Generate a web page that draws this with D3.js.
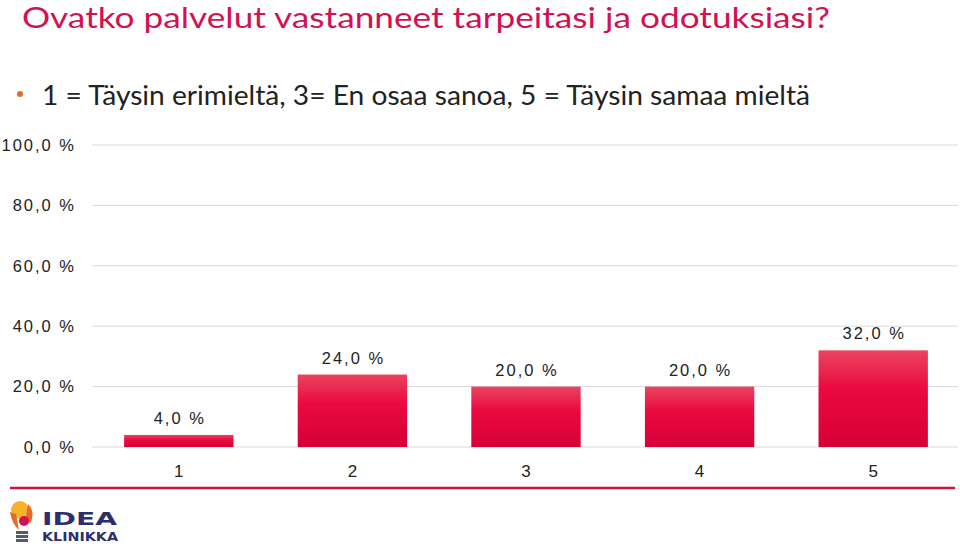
<!DOCTYPE html>
<html><head><meta charset="utf-8">
<script src="https://cdn.jsdelivr.net/npm/d3@7"></script>
<style>body{margin:0;background:#fff}svg{display:block}</style>
</head><body>
<svg id="c" width="960" height="551"></svg>
<script>
const categories = ["1","2","3","4","5"];
const values = [4.0, 24.0, 20.0, 20.0, 32.0];
const yTicks = [0,20,40,60,80,100];
const title = "Ovatko palvelut vastanneet tarpeitasi ja odotuksiasi?";
const subtitle = "1 = Täysin erimieltä, 3= En osaa sanoa, 5 = Täysin samaa mieltä";

const svg = d3.select("#c");
const fmt = v => v.toFixed(1).replace(".", ",") + " %";
const numFont = "'Liberation Sans', Arial, sans-serif";

const defs = svg.append("defs");
const g = defs.append("linearGradient").attr("id","bg").attr("x1",0).attr("y1",0).attr("x2",0).attr("y2",1);
g.append("stop").attr("offset","0%").attr("stop-color","#e9455f");
g.append("stop").attr("offset","40%").attr("stop-color","#ea0a3f");
g.append("stop").attr("offset","100%").attr("stop-color","#d60036");

svg.append("text").attr("x",22).attr("y",28).attr("font-family","Lato, 'Open Sans', sans-serif")
  .attr("font-size",28).attr("fill","#d2124f")
  .attr("textLength",808).attr("lengthAdjust","spacingAndGlyphs").text(title);
svg.append("circle").attr("cx",20).attr("cy",94).attr("r",3).attr("fill","#e8692c");
svg.append("text").attr("x",42).attr("y",105).attr("font-family","Lato, 'Open Sans', sans-serif")
  .attr("font-size",26).attr("fill","#222")
  .attr("textLength",768).attr("lengthAdjust","spacingAndGlyphs").text(subtitle);

const x = d3.scaleBand().domain(categories).range([92,960]).paddingInner(0.37).paddingOuter(0.185);
const y = d3.scaleLinear().domain([0,100]).range([447,145]);

const grid = svg.append("g");
grid.selectAll("line").data(yTicks).join("line")
  .attr("x1",92).attr("x2",958).attr("y1",d=>y(d)).attr("y2",d=>y(d))
  .attr("stroke","#d9d9d9").attr("stroke-width",1);

const yAxis = svg.append("g").attr("transform","translate(76,0)")
  .call(d3.axisLeft(y).tickValues(yTicks).tickFormat(fmt).tickSize(0).tickPadding(0));
yAxis.select(".domain").remove();
yAxis.selectAll("text").attr("font-family",numFont).attr("font-size",16.5)
  .attr("letter-spacing","2px").attr("fill","#222");

svg.append("g").selectAll("rect").data(values).join("rect")
  .attr("x",(d,i)=>x(categories[i])).attr("width",x.bandwidth())
  .attr("y",d=>y(d)).attr("height",d=>y(0)-y(d)).attr("fill","url(#bg)");

svg.append("g").selectAll("text").data(values).join("text")
  .attr("x",(d,i)=>x(categories[i])+x.bandwidth()/2+1).attr("y",d=>y(d)-11)
  .attr("text-anchor","middle").attr("font-family",numFont)
  .attr("font-size",16.5).attr("letter-spacing","2px").attr("fill","#222").text(d=>fmt(d));

const xAxis = svg.append("g").attr("transform","translate(0,449)")
  .call(d3.axisBottom(x).tickSize(0).tickPadding(16));
xAxis.select(".domain").remove();
xAxis.selectAll("text").attr("font-family",numFont).attr("font-size",17).attr("fill","#222");

svg.append("line").attr("x1",10).attr("x2",955).attr("y1",488).attr("y2",488)
  .attr("stroke","#d0103f").attr("stroke-width",2.5);

// logo
const lg = svg.append("g");
lg.append("circle").attr("cx",20).attr("cy",510).attr("r",9).attr("fill","#f7b32b");
lg.append("path").attr("d","M10,512 Q12,524 19,530 L16,514 Z").attr("fill","#e8692c");
lg.append("path").attr("d","M28,504 Q36,512 30,524 L26,516 Z").attr("fill","#e8692c");
lg.append("circle").attr("cx",24).attr("cy",521).attr("r",5).attr("fill","#d2124f");
lg.selectAll("rect.s").data([531,535,539]).join("rect").attr("class","s")
  .attr("x",16).attr("y",d=>d).attr("width",12).attr("height",3).attr("fill","#555a6e");
lg.append("text").attr("x",42).attr("y",525).attr("font-family","'DejaVu Sans', sans-serif").attr("font-weight","bold")
  .attr("font-size",18).attr("fill","#2e2e6e").attr("textLength",75).attr("lengthAdjust","spacingAndGlyphs").text("IDEA");
lg.append("text").attr("x",42).attr("y",541).attr("font-family","'DejaVu Sans', sans-serif").attr("font-weight","bold")
  .attr("font-size",12).attr("fill","#2e2e6e").attr("textLength",76).attr("lengthAdjust","spacingAndGlyphs").text("KLINIKKA");
</script>
</body></html>
